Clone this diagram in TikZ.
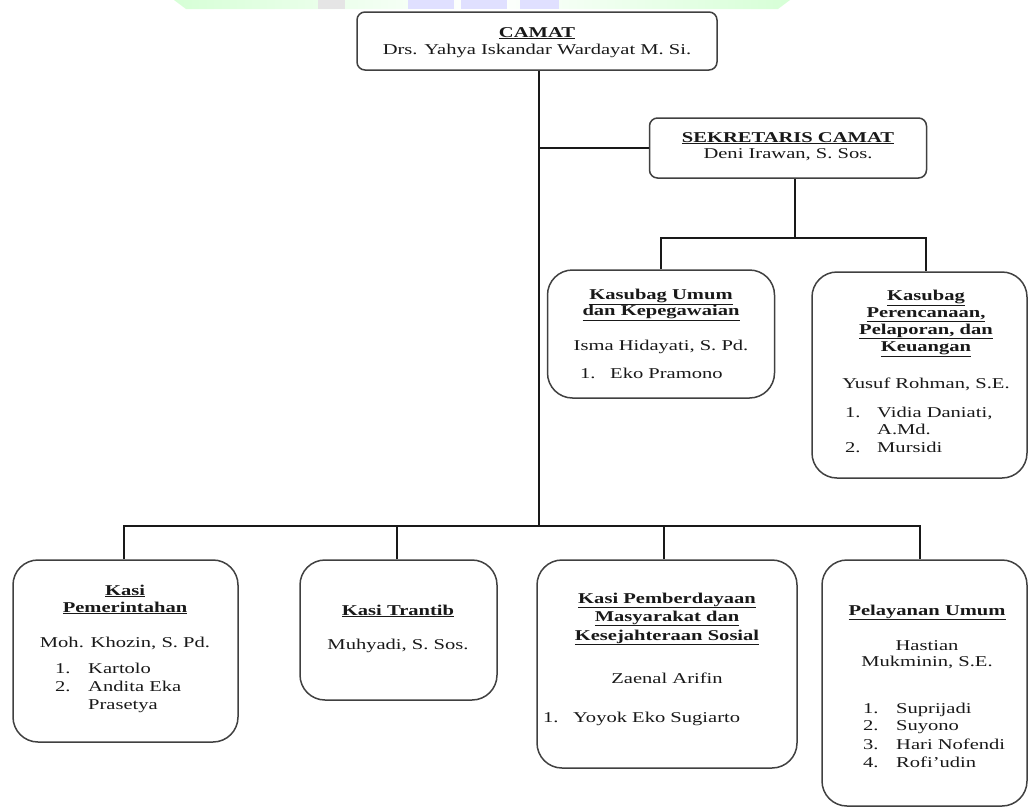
\documentclass[tikz,border=0pt]{standalone}
\usepackage{fontspec}
\setmainfont{Liberation Serif}[FakeStretch=1.37]
\begin{document}
\begin{tikzpicture}[x=1pt,y=-1pt,
  box/.style={draw=black!75, line width=1.5pt, rounded corners=#1, fill=white, inner sep=0pt},
  box/.default=25pt,
  conn/.style={draw=black!90, line width=1.5pt},
  txt/.style={anchor=base, inner sep=0pt, text=black!90},
  ltxt/.style={anchor=base west, inner sep=0pt, text=black!90},
  font=\fontsize{15}{17}\selectfont]
\useasboundingbox (0,0) rectangle (1030,809);
% faint header watermark band
\shade[left color=green!16, right color=green!16, middle color=white] (174,0) -- (790,0) -- (778,9) -- (186,9) -- cycle;
\fill[black!10] (318,0) rectangle (345,9);
\fill[blue!12] (408,0) rectangle (454,9);
\fill[blue!12] (461,0) rectangle (507,9);
\fill[blue!12] (520,0) rectangle (559,9);

% boxes
\node[box=8pt, minimum width=360pt, minimum height=58pt] (camat) at (537,41) {};
\node[box=8pt, minimum width=277pt, minimum height=60pt] (sek) at (788,148) {};
\node[box, minimum width=227pt, minimum height=128pt] (ku) at (661,334) {};
\node[box, minimum width=215pt, minimum height=206pt] (kp) at (919.5,375) {};
\node[box, minimum width=225pt, minimum height=182pt] (kpem) at (125.5,651) {};
\node[box, minimum width=197pt, minimum height=140pt] (ktr) at (398.5,630) {};
\node[box, minimum width=260pt, minimum height=208pt] (kpb) at (667,664) {};
\node[box, minimum width=205pt, minimum height=246pt] (kpel) at (924.5,683) {};

% connectors
\coordinate (bus) at (539,526);
\coordinate (b2) at (795,238);
\draw[conn] (camat.south -| bus) -- (bus);
\draw[conn] (sek.west) -- (sek.west -| bus);
\draw[conn] (sek.south -| b2) -- (b2);
\draw[conn] (ku.north) |- ([xshift=6.5pt]kp.north |- b2) -- ([xshift=6.5pt]kp.north);
\draw[conn] ([xshift=-1.5pt]kpem.north) |- ([xshift=-4.5pt]kpel.north |- bus) -- ([xshift=-4.5pt]kpel.north);
\draw[conn] ([xshift=-1.5pt]ktr.north) -- ([xshift=-1.5pt]ktr.north |- bus);
\draw[conn] ([xshift=-3pt]kpb.north) -- ([xshift=-3pt]kpb.north |- bus);

% texts: CAMAT
\node[txt] (camat-t) at (537,37) {\bfseries\underline{CAMAT}};
\node[txt] (camat-n) at (537,54) {Drs. Yahya Iskandar Wardayat M. Si.};
% Sekretaris
\node[txt] (sek-t) at (788,142) {\bfseries\underline{SEKRETARIS CAMAT}};
\node[txt] (sek-n) at (788,158) {Deni Irawan, S. Sos.};
% Kasubag Umum
\node[txt] (ku-t1) at (661,299) {\bfseries\underline{Kasubag Umum}};
\node[txt] (ku-t2) at (661,315) {\bfseries\underline{dan Kepegawaian}};
\node[txt] (ku-n) at (661,350) {Isma Hidayati, S. Pd.};
\node[ltxt] (ku-1) at (580,378) {1.};
\node[ltxt] (ku-1t) at (610,378) {Eko Pramono};
% Kasubag Perencanaan
\node[txt] (kp-t1) at (926,300) {\bfseries\underline{Kasubag}};
\node[txt] (kp-t2) at (926,317) {\bfseries\underline{Perencanaan,}};
\node[txt] (kp-t3) at (926,334) {\bfseries\underline{Pelaporan, dan}};
\node[txt] (kp-t4) at (926,351) {\bfseries\underline{Keuangan}};
\node[txt] (kp-n) at (926,388) {Yusuf Rohman, S.E.};
\node[ltxt] (kp-1) at (845,417) {1.};
\node[ltxt] (kp-1t) at (877,417) {Vidia Daniati,};
\node[ltxt] (kp-1u) at (877,434) {A.Md.};
\node[ltxt] (kp-2) at (845,452) {2.};
\node[ltxt] (kp-2t) at (877,452) {Mursidi};
% Kasi Pemerintahan
\node[txt] (kpem-t1) at (125,595) {\bfseries\underline{Kasi}};
\node[txt] (kpem-t2) at (125,612) {\bfseries\underline{Pemerintahan}};
\node[txt] (kpem-n) at (125,647) {Moh. Khozin, S. Pd.};
\node[ltxt] (kpem-1) at (55,673) {1.};
\node[ltxt] (kpem-1t) at (88,673) {Kartolo};
\node[ltxt] (kpem-2) at (55,691) {2.};
\node[ltxt] (kpem-2t) at (88,691) {Andita Eka};
\node[ltxt] (kpem-2u) at (88,709) {Prasetya};
% Kasi Trantib
\node[txt] (ktr-t) at (398,615) {\bfseries\underline{Kasi Trantib}};
\node[txt] (ktr-n) at (398,649) {Muhyadi, S. Sos.};
% Kasi Pemberdayaan
\node[txt] (kpb-t1) at (667,603) {\bfseries\underline{Kasi Pemberdayaan}};
\node[txt] (kpb-t2) at (667,621) {\bfseries\underline{Masyarakat dan}};
\node[txt] (kpb-t3) at (667,640) {\bfseries\underline{Kesejahteraan Sosial}};
\node[txt] (kpb-n) at (667,683) {Zaenal Arifin};
\node[ltxt] (kpb-1) at (543,722) {1.};
\node[ltxt] (kpb-1t) at (573,722) {Yoyok Eko Sugiarto};
% Pelayanan Umum
\node[txt] (kpel-t) at (927,615) {\bfseries\underline{Pelayanan Umum}};
\node[txt] (kpel-n1) at (927,650) {Hastian};
\node[txt] (kpel-n2) at (927,666) {Mukminin, S.E.};
\node[ltxt] (kpel-1) at (863,713) {1.};
\node[ltxt] (kpel-1t) at (896,713) {Suprijadi};
\node[ltxt] (kpel-2) at (863,730) {2.};
\node[ltxt] (kpel-2t) at (896,730) {Suyono};
\node[ltxt] (kpel-3) at (863,749) {3.};
\node[ltxt] (kpel-3t) at (896,749) {Hari Nofendi};
\node[ltxt] (kpel-4) at (863,767) {4.};
\node[ltxt] (kpel-4t) at (896,767) {Rofi’udin};
\end{tikzpicture}
\end{document}
